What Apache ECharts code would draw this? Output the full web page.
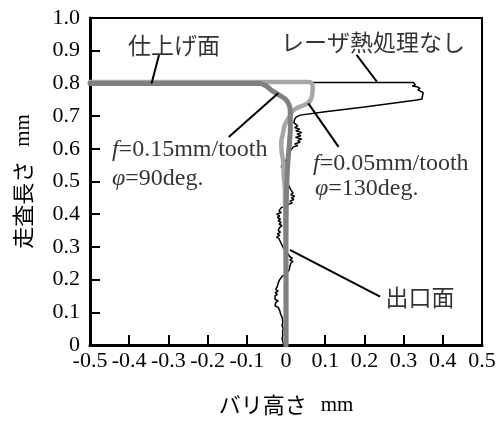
<!DOCTYPE html>
<html><head><meta charset="utf-8">
<script src="https://cdn.jsdelivr.net/npm/echarts@6/dist/echarts.min.js"></script>
<style>html,body{margin:0;padding:0;background:#fff}#c{width:501px;height:423px}</style>
</head><body><div id="c"></div>
<script>
// axis ticks
const xTicks = [-0.5,-0.4,-0.3,-0.2,-0.1,0,0.1,0.2,0.3,0.4,0.5];
const yTicks = [0,0.1,0.2,0.3,0.4,0.5,0.6,0.7,0.8,0.9,1.0];
// series: [burr height mm, scan length mm]
const noTreatment = [
 [-0.5,0.803],[0.325,0.803],[0.33,0.795],[0.322,0.792],[0.334,0.79],[0.342,0.785],[0.336,0.78],[0.338,0.775],[0.35,0.772],[0.355,0.766],[0.348,0.76],[0.347,0.752],[0.334,0.749],[0.2,0.728],[0.1,0.713],[0.036,0.703],[0.026,0.697],[0.022,0.69],[0.02,0.68],[0.024,0.675],
 [0.03,0.67],[0.022,0.665],[0.035,0.66],[0.025,0.655],[0.04,0.65],[0.028,0.645],[0.038,0.64],[0.024,0.635],[0.04,0.63],[0.03,0.625],[0.036,0.62],[0.022,0.615],[0.03,0.61],[0.018,0.605],[0.022,0.6],[0.012,0.595],[0.008,0.585],[0.004,0.575],[0.0,0.565],
 [-0.008,0.556],[-0.004,0.55],[-0.012,0.545],[-0.006,0.54],[-0.01,0.535],[-0.002,0.53],[0.003,0.52],[0.0,0.51],[-0.009,0.505],[0.002,0.5],[0.006,0.49],
 [0.012,0.475],[0.008,0.47],[0.018,0.465],[0.012,0.46],[0.022,0.455],[0.014,0.45],[0.02,0.445],[0.01,0.44],[0.016,0.435],[0.006,0.43],[0.0,0.425],
 [-0.012,0.42],[-0.008,0.415],[-0.018,0.41],[-0.012,0.405],[-0.024,0.40],[-0.016,0.395],[-0.022,0.39],[-0.014,0.385],[-0.02,0.38],[-0.012,0.375],[-0.018,0.37],[-0.01,0.365],[-0.016,0.36],[-0.012,0.355],[-0.02,0.35],[-0.014,0.345],[-0.022,0.34],[-0.016,0.335],[-0.024,0.33],[-0.018,0.325],[-0.022,0.32],[-0.014,0.315],[-0.018,0.31],[-0.01,0.305],[-0.012,0.30],[-0.006,0.295],[-0.002,0.29],
 [0.004,0.28],[0.01,0.27],[0.016,0.265],[0.01,0.26],[0.018,0.255],[0.012,0.25],[0.016,0.245],[0.01,0.24],[0.014,0.235],[0.008,0.23],[0.01,0.225],[0.002,0.218],
 [-0.01,0.21],[-0.008,0.205],[-0.016,0.2],[-0.012,0.195],[-0.02,0.19],[-0.016,0.185],[-0.022,0.18],[-0.018,0.175],[-0.026,0.17],[-0.02,0.165],[-0.028,0.16],[-0.022,0.155],[-0.028,0.15],[-0.024,0.145],[-0.028,0.14],[-0.02,0.135],[-0.026,0.13],[-0.022,0.125],[-0.028,0.12],[-0.02,0.115],[-0.024,0.11],[-0.016,0.105],[-0.02,0.1],[-0.014,0.095],[-0.016,0.09],[-0.01,0.085],[-0.012,0.08],
 [-0.008,0.07],[-0.01,0.06],[-0.007,0.05],[-0.009,0.04],[-0.008,0.03],[-0.01,0.02],[-0.008,0.01],[-0.006,0.0]
];
const f015 = [[-0.5,0.80],[-0.066,0.80],[-0.05,0.792],[-0.038,0.78],[-0.022,0.768],[-0.01,0.759],[0.0,0.75],[0.006,0.739],[0.01,0.725],[0.011,0.70],[0.011,0.66],[0.009,0.62],[0.006,0.58],[0.003,0.52],[0.001,0.45],[0.0,0.3],[0.0,0.15],[0.0,0.0]];
const f005 = [[-0.5,0.804],[0.058,0.804],[0.066,0.80],[0.068,0.79],[0.066,0.76],[0.058,0.742],[0.045,0.733],[0.03,0.726],[0.018,0.717],[0.01,0.70],[0.002,0.685],[-0.004,0.67],[-0.007,0.65],[-0.012,0.62],[-0.011,0.59],[-0.007,0.56],[-0.006,0.52],[-0.003,0.48],[-0.002,0.4],[0.0,0.2],[0.0,0.0]];
// annotation leader lines
const leaderFinish = [[-0.324,0.887],[-0.343,0.80]];
const leaderNone = [[0.180,0.887],[0.232,0.805]];
const leaderF015 = [[-0.146,0.636],[-0.020,0.770]];
const leaderF005 = [[0.134,0.606],[0.057,0.739]];
const leaderExit = [[0.240,0.148],[0.010,0.291]];
// annotation texts
const labelCentered = [
 {value:[-0.286,0.917], text:'{j|仕上げ面}'},
 {value:[0.222,0.927], text:'{j|レーザ熱処理なし}'},
 {value:[0.342,0.147], text:'{j|出口面}'}
];
const labelLeft = [
 {value:[-0.444,0.596], text:'{i|f}{s|=0.15mm/tooth}'},
 {value:[-0.444,0.508], text:'{i|φ}{s|=90deg.}'},
 {value:[0.069,0.554], text:'{i|f}{s|=0.05mm/tooth}'},
 {value:[0.074,0.479], text:'{i|φ}{s|=130deg.}'}
];

const serif = 'Liberation Serif';
const cjk = 'Noto Sans CJK JP';
const rich = {
 j:{fontFamily:cjk,fontSize:23,color:'#000'},
 s:{fontFamily:serif,fontSize:24,color:'#000'},
 i:{fontFamily:serif,fontSize:24,fontStyle:'italic',color:'#000'},
 m:{fontFamily:serif,fontSize:21,color:'#000'},
 t:{fontFamily:cjk,fontSize:22,color:'#000'},
 g:{fontFamily:serif,fontSize:20,width:14}
};
function fmt(v){ return Math.abs(v)<1e-9 ? '0' : v.toFixed(1); }
function leader(d){ return {type:'line',data:d,symbol:'none',silent:true,z:5,lineStyle:{color:'#000',width:2},animation:false}; }

const chart = echarts.init(document.getElementById('c'));
chart.setOption({
 animation:false,
 grid:{left:90,right:19,top:18,bottom:78,show:true,borderColor:'#000',borderWidth:2},
 xAxis:{type:'value',min:xTicks[0],max:xTicks[xTicks.length-1],interval:0.1,
  axisLine:{onZero:false,lineStyle:{color:'#000',width:3}},
  axisTick:{inside:true,length:10,lineStyle:{color:'#000',width:2}},
  splitLine:{show:false},
  axisLabel:{formatter:fmt,fontFamily:serif,fontSize:22,color:'#000',margin:5,interval:0,showMinLabel:true,showMaxLabel:true},
  name:'{t|バリ高さ}{g|}{m|mm}',nameLocation:'middle',nameGap:49,nameTextStyle:{rich:rich}},
 yAxis:{type:'value',min:yTicks[0],max:yTicks[yTicks.length-1],interval:0.1,
  axisLine:{onZero:false,lineStyle:{color:'#000',width:3}},
  axisTick:{inside:true,length:10,lineStyle:{color:'#000',width:2}},
  splitLine:{show:false},
  axisLabel:{formatter:fmt,fontFamily:serif,fontSize:22,color:'#000',margin:10,showMinLabel:true,showMaxLabel:true},
  name:'{t|走査長さ}{g|}{m|mm}',nameLocation:'middle',nameRotate:90,nameGap:56,nameTextStyle:{rich:rich}},
 series:[
  {type:'line',data:noTreatment,symbol:'none',z:2,lineStyle:{color:'#000',width:1.5}},
  {type:'line',data:f005,symbol:'none',smooth:0.3,z:3,lineStyle:{color:'#a6a6a6',width:4.5,cap:'round',join:'round'}},
  {type:'line',data:f015,symbol:'none',smooth:0.3,z:4,lineStyle:{color:'#808080',width:5,cap:'round',join:'round'}},
  leader(leaderFinish),leader(leaderNone),leader(leaderF015),leader(leaderF005),leader(leaderExit),
  {type:'scatter',symbolSize:0,z:6,data:labelCentered.map(d=>({value:d.value,label:{formatter:d.text}})),
   label:{show:true,position:'inside',rich:rich}},
  {type:'scatter',symbolSize:0,z:6,data:labelLeft.map(d=>({value:d.value,label:{formatter:d.text}})),
   label:{show:true,position:'right',distance:0,rich:rich}}
 ]
});
</script></body></html>
